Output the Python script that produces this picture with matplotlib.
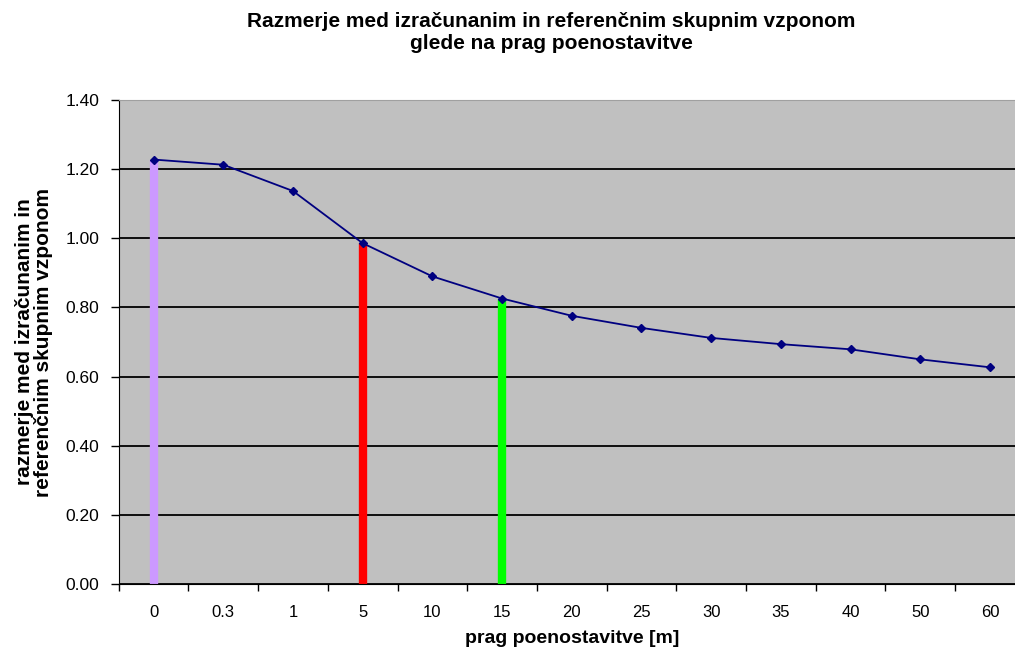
import numpy as np
import matplotlib
matplotlib.use("Agg")
import matplotlib.pyplot as plt

plt.rcParams['font.family'] = ['Liberation Sans', 'DejaVu Sans']

categories = ['0', '0.3', '1', '5', '10', '15', '20', '25', '30', '35', '40', '50', '60']
ratio = [1.228, 1.213, 1.137, 0.986, 0.890, 0.826, 0.776, 0.741, 0.712, 0.694, 0.679, 0.650, 0.627]

# highlighted thresholds: category, colour
highlights = [('0', '#CC99FF'), ('5', '#FF0000'), ('15', '#00FF00')]

x = np.arange(len(categories))

fig = plt.figure(figsize=(10.15, 6.5), dpi=100)
# plot area runs a little past the right edge, as in the original
ax = fig.add_axes([0.117, 0.1015, 0.8926, 0.7445])
ax.set_facecolor('#C0C0C0')

for cat, col in highlights:
    i = categories.index(cat)
    ax.vlines(x[i], 0, ratio[i], colors=col, linewidth=6, zorder=2)

ax.plot(x, ratio, color='#000080', linewidth=1.3, marker='D', markersize=4.5, zorder=3)

ax.set_xlim(-0.5, len(categories) - 0.5)
ax.set_ylim(0, 1.4)
yt = np.arange(0, 1.41, 0.2)
ax.set_yticks(yt)
ax.set_yticklabels(['%.2f' % v for v in yt], fontsize=12.5)
ax.yaxis.grid(True, color='black', linewidth=1.3)
ax.set_axisbelow(True)

ax.set_xticks(x)
ax.set_xticklabels(categories, fontsize=12)
ax.set_xticks(np.arange(-0.5, len(categories)), minor=True)
ax.tick_params(axis='x', which='major', length=0, pad=15)
ax.tick_params(axis='x', which='minor', length=5, direction='out', width=1)
ax.tick_params(axis='y', length=6, direction='out', width=1, pad=8)

ax.spines['top'].set_color('#A0A0A0')
ax.spines['right'].set_visible(False)

ax.set_xlabel('prag poenostavitve [m]', fontsize=14, fontweight='bold', labelpad=7)
ax.set_ylabel('razmerje med izračunanim in\nreferenčnim skupnim vzponom', fontsize=15,
              fontweight='bold', linespacing=0.95)
ax.yaxis.set_label_coords(-0.073, 0.5)
fig.suptitle('Razmerje med izračunanim in referenčnim skupnim vzponom\nglede na prag poenostavitve',
             x=0.543, y=0.982, fontsize=15, fontweight='bold', linespacing=1.2)

fig.savefig('out.png', dpi=100)
